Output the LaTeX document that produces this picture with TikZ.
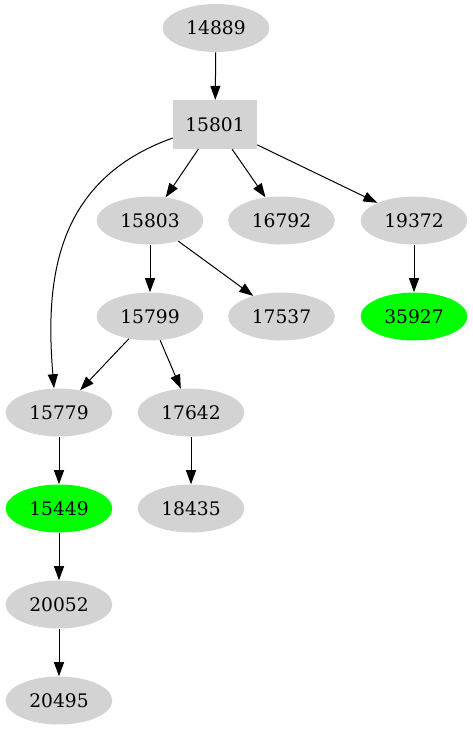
\documentclass[tikz,border=0pt]{standalone}
\usepackage{fontspec}
\setmainfont{DejaVu Serif}
\usepackage{tikz}
\usetikzlibrary{arrows.meta,shapes.geometric}
\definecolor{grayx}{HTML}{D3D3D3}
\definecolor{greenx}{HTML}{00FF00}
\tikzset{
  ar/.style={-{Triangle[length=10.5pt,width=7.5pt]},line width=0.75pt,black},
  oval/.style={ellipse,fill=grayx,minimum width=80pt,minimum height=36pt,inner sep=0pt,font=\fontsize{14}{16}\selectfont},
  hit/.style={oval,fill=greenx},
  sq/.style={rectangle,fill=grayx,minimum width=63pt,minimum height=36.5pt,inner sep=0pt,font=\fontsize{14}{16}\selectfont}
}
\begin{document}
\begin{tikzpicture}[x=0.75pt,y=-0.75pt]
\useasboundingbox (0,0) rectangle (473,731);
\node[oval] (n14889) at (216,28) {14889};
\node[sq] (n15801) at (215,124.5) {15801};
\node[oval] (n15803) at (150,220.5) {15803};
\node[oval] (n16792) at (281.5,220.5) {16792};
\node[oval] (n19372) at (414,220.5) {19372};
\node[oval] (n15799) at (150,316.5) {15799};
\node[oval] (n17537) at (281.5,316.5) {17537};
\node[hit] (n35927) at (414,316.5) {35927};
\node[oval] (n15779) at (59,412.5) {15779};
\node[oval] (n17642) at (191,412.5) {17642};
\node[hit] (n15449) at (59,508.5) {15449};
\node[oval] (n18435) at (191,508.5) {18435};
\node[oval] (n20052) at (59,604.5) {20052};
\node[oval] (n20495) at (59,700.5) {20495};
\draw[ar] (n14889) -- (n15801);
\draw[ar] (n15801) -- (n15803);
\draw[ar] (n15801) -- (n16792);
\draw[ar] (n15801) -- (n19372);
\draw[ar] (n15801.west|-173,138) .. controls (55,180) and (45,280) .. (n15779.north-|54,0);
\draw[ar] (n15803) -- (n15799);
\draw[ar] (n15803) -- (n17537);
\draw[ar] (n19372) -- (n35927);
\draw[ar] (n15799) -- (n15779);
\draw[ar] (n15799) -- (n17642);
\draw[ar] (n15779) -- (n15449);
\draw[ar] (n17642) -- (n18435);
\draw[ar] (n15449) -- (n20052);
\draw[ar] (n20052) -- (n20495);
\end{tikzpicture}
\end{document}
